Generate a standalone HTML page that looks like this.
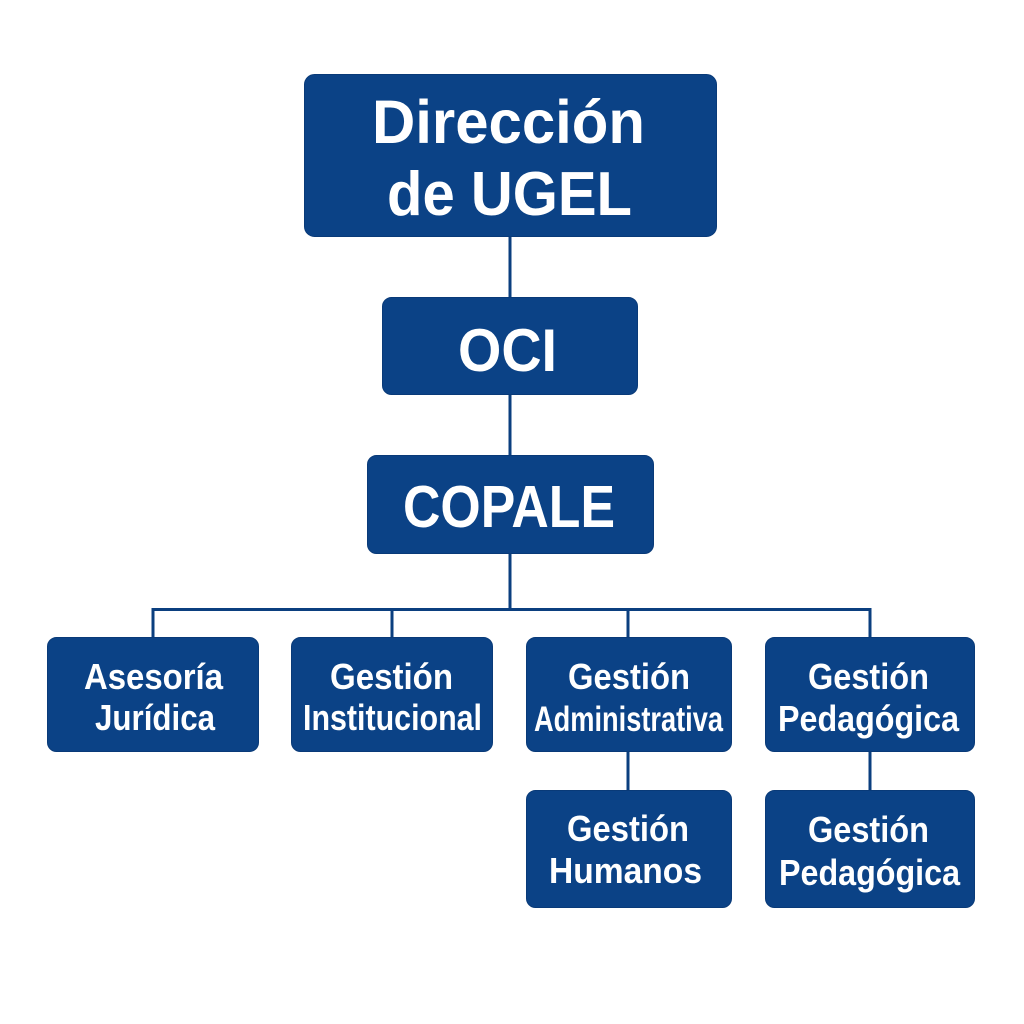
<!DOCTYPE html>
<html>
<head>
<meta charset="utf-8">
<style>
  html, body { margin: 0; padding: 0; background: #ffffff; }
  svg { display: block; }
  text { font-family: "Liberation Sans", "DejaVu Sans", sans-serif; font-weight: bold; fill: #ffffff; }
</style>
</head>
<body>
<svg width="1024" height="1024" viewBox="0 0 1024 1024" xmlns="http://www.w3.org/2000/svg">
  <rect x="0" y="0" width="1024" height="1024" fill="#ffffff"/>
  <!-- connectors -->
  <g stroke="#0b3f7f" stroke-width="3" fill="none">
    <line x1="510" y1="236" x2="510" y2="298"/>
    <line x1="510" y1="394" x2="510" y2="456"/>
    <line x1="510" y1="553" x2="510" y2="610"/>
    <line x1="151.5" y1="609.5" x2="871.5" y2="609.5"/>
    <line x1="153" y1="608" x2="153" y2="638"/>
    <line x1="392" y1="608" x2="392" y2="638"/>
    <line x1="628" y1="608" x2="628" y2="638"/>
    <line x1="870" y1="608" x2="870" y2="638"/>
    <line x1="628" y1="751" x2="628" y2="791"/>
    <line x1="870" y1="751" x2="870" y2="791"/>
  </g>
  <!-- boxes -->
  <g fill="#0b4286" stroke="#093a78" stroke-width="1">
    <rect x="304.5" y="74.5" width="412" height="162" rx="10"/>
    <rect x="382.5" y="297.5" width="255" height="97" rx="9"/>
    <rect x="367.5" y="455.5" width="286" height="98" rx="9"/>
    <rect x="47.5" y="637.5" width="211" height="114" rx="9"/>
    <rect x="291.5" y="637.5" width="201" height="114" rx="9"/>
    <rect x="526.5" y="637.5" width="205" height="114" rx="9"/>
    <rect x="765.5" y="637.5" width="209" height="114" rx="9"/>
    <rect x="526.5" y="790.5" width="205" height="117" rx="9"/>
    <rect x="765.5" y="790.5" width="209" height="117" rx="9"/>
  </g>
  <!-- labels -->
  <text x="372" y="143" font-size="61" textLength="273" lengthAdjust="spacingAndGlyphs">Dirección</text>
  <text x="387" y="215" font-size="62" textLength="245" lengthAdjust="spacingAndGlyphs">de UGEL</text>
  <text x="458" y="371" font-size="60" textLength="99" lengthAdjust="spacingAndGlyphs">OCI</text>
  <text x="403" y="527" font-size="59" textLength="212" lengthAdjust="spacingAndGlyphs">COPALE</text>

  <text x="84" y="689" font-size="36" textLength="139" lengthAdjust="spacingAndGlyphs">Asesoría</text>
  <text x="95" y="730" font-size="36" textLength="120" lengthAdjust="spacingAndGlyphs">Jurídica</text>

  <text x="330" y="689" font-size="36" textLength="123" lengthAdjust="spacingAndGlyphs">Gestión</text>
  <text x="303" y="730" font-size="36" textLength="179" lengthAdjust="spacingAndGlyphs">Institucional</text>

  <text x="568" y="689" font-size="36" textLength="122" lengthAdjust="spacingAndGlyphs">Gestión</text>
  <text x="534" y="731" font-size="35" textLength="189" lengthAdjust="spacingAndGlyphs">Administrativa</text>

  <text x="808" y="689" font-size="36" textLength="121" lengthAdjust="spacingAndGlyphs">Gestión</text>
  <text x="778" y="731" font-size="36" textLength="181" lengthAdjust="spacingAndGlyphs">Pedagógica</text>

  <text x="567" y="841" font-size="36" textLength="122" lengthAdjust="spacingAndGlyphs">Gestión</text>
  <text x="549" y="883" font-size="36" textLength="153" lengthAdjust="spacingAndGlyphs">Humanos</text>

  <text x="808" y="842" font-size="36" textLength="121" lengthAdjust="spacingAndGlyphs">Gestión</text>
  <text x="779" y="885" font-size="36" textLength="181" lengthAdjust="spacingAndGlyphs">Pedagógica</text>
</svg>
</body>
</html>
